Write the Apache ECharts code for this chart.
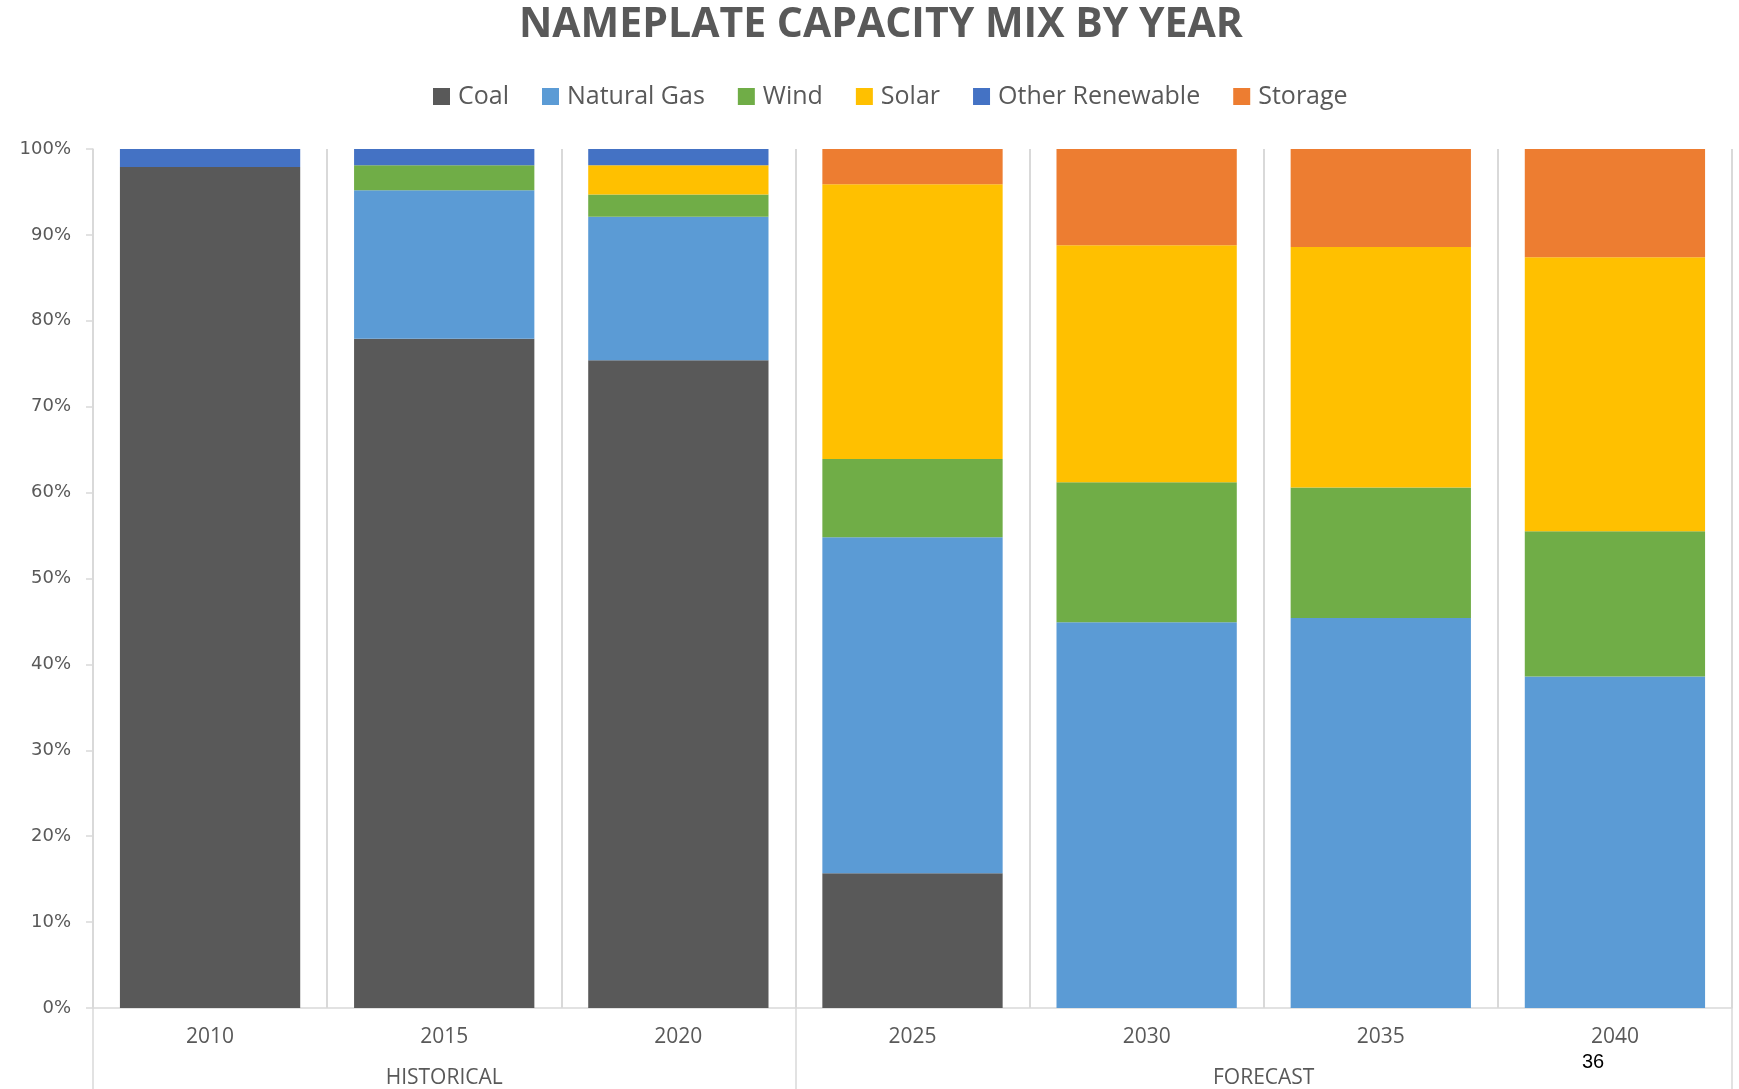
<!DOCTYPE html>
<html>
<head>
<meta charset="utf-8">
<script src="https://cdn.jsdelivr.net/npm/echarts@6/dist/echarts.min.js"></script>
<style>
html,body{margin:0;padding:0;background:#fff;}
#chart{width:1739px;height:1089px;}
</style>
</head>
<body>
<div id="chart"></div>
<script>
const years = ['2010','2015','2020','2025','2030','2035','2040'];
const groupLabels = ['HISTORICAL','FORECAST'];
const groupCenters = [1.5, 5];
const groupBounds = [0, 3, 7];
const yTicks = [0,10,20,30,40,50,60,70,80,90,100];

const coal          = [97.9, 77.9, 75.4, 15.7, 0, 0, 0];
const naturalGas    = [0, 17.3, 16.7, 39.1, 44.9, 45.4, 38.6];
const wind          = [0, 2.9, 2.6, 9.1, 16.3, 15.2, 16.9];
const solar         = [0, 0, 3.4, 32.0, 27.6, 28.0, 31.9];
const otherRenew    = [2.1, 1.9, 1.9, 0, 0, 0, 0];
const storage       = [0, 0, 0, 4.1, 11.2, 11.4, 12.6];

const seriesNames = ['Coal','Natural Gas','Wind','Solar','Other Renewable','Storage'];
const seriesData = [coal, naturalGas, wind, solar, otherRenew, storage];
const colors = ['#595959','#5B9BD5','#70AD47','#FFC000','#4472C4','#ED7D31'];

const chart = echarts.init(document.getElementById('chart'));
const txt = '#595959';
const lineC = '#d9d9d9';

chart.setOption({
  animation: false,
  backgroundColor: '#fff',
  color: colors,
  title: {
    text: 'NAMEPLATE CAPACITY MIX BY YEAR',
    left: 514,
    top: 0,
    textStyle: {fontFamily: 'Open Sans', fontWeight: 'bold', fontSize: 41, color: txt}
  },
  legend: {
    top: 79,
    left: 428,
    icon: 'rect',
    itemWidth: 17,
    itemHeight: 17,
    itemGap: 33,
    textStyle: {fontFamily: 'Open Sans', fontSize: 25, color: txt, padding: [0,0,0,3]},
    data: seriesNames
  },
  grid: {left: 93, right: 7, top: 149, bottom: 81, containLabel: false},
  xAxis: [
    {
      type: 'category',
      data: years,
      boundaryGap: true,
      axisLine: {show: true, lineStyle: {color: lineC, width: 1.5}},
      axisTick: {show: false},
      axisLabel: {fontFamily: 'Open Sans', fontSize: 21, color: txt, margin: 19},
      splitLine: {show: true, interval: 0, lineStyle: {color: lineC, width: 2}}
    },
    {
      type: 'value',
      min: 0, max: 7, interval: 0.5,
      position: 'bottom',
      axisLine: {show: false},
      splitLine: {show: false},
      axisTick: {show: true, customValues: groupBounds, length: 81, lineStyle: {color: lineC, width: 1.5}},
      axisLabel: {
        customValues: groupCenters,
        fontFamily: 'Open Sans', fontSize: 21, color: txt, margin: 60,
        formatter: function (v) {
          const i = groupCenters.indexOf(v);
          return i >= 0 ? groupLabels[i] : '';
        }
      }
    }
  ],
  yAxis: {
    type: 'value',
    min: 0, max: 100, interval: 10,
    axisLine: {show: true, lineStyle: {color: lineC, width: 1.5}},
    axisTick: {show: true, length: 7, lineStyle: {color: lineC, width: 1.5}},
    splitLine: {show: false},
    axisLabel: {
      customValues: yTicks,
      fontFamily: 'DejaVu Sans', fontSize: 18, color: txt, margin: 22,
      formatter: v => v + '%'
    }
  },
  series: seriesNames.map((n, i) => ({
    name: n,
    type: 'bar',
    stack: 'total',
    xAxisIndex: 0,
    barCategoryGap: '23%',
    data: seriesData[i],
    itemStyle: {color: colors[i]}
  })),
  graphic: [{
    type: 'text',
    left: 1582,
    top: 1052,
    style: {text: '36', fontFamily: 'Liberation Sans', fontSize: 20, fill: '#000'}
  }]
});
</script>
</body>
</html>
